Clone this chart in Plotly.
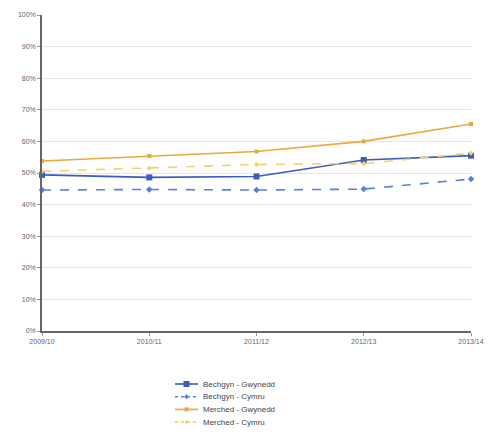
import plotly.graph_objects as go

years = ["2009/10", "2010/11", "2011/12", "2012/13", "2013/14"]
bechgyn_gwynedd = [49.4, 48.6, 48.9, 54.1, 55.5]
bechgyn_cymru = [44.6, 44.8, 44.6, 44.9, 48.1]
merched_gwynedd = [53.8, 55.4, 56.8, 60.0, 65.5]
merched_cymru = [50.5, 51.5, 52.7, 53.0, 56.3]

series = [
    ("Bechgyn - Gwynedd", bechgyn_gwynedd, "#3a5bbf", "solid", "square", 6),
    ("Bechgyn - Cymru", bechgyn_cymru, "#5a7fe0", "dash", "diamond", 5),
    ("Merched - Gwynedd", merched_gwynedd, "#eaa93a", "solid", "square", 4),
    ("Merched - Cymru", merched_cymru, "#f7cf70", "dash", "diamond", 4),
]

W, H = 504, 446
L, R, T, B = 42, 33, 15, 115
PW, PH = W - L - R, H - T - B


def px(x):
    return (x - L) / PW


def py(y):
    return (H - B - y) / PH


fig = go.Figure()
shapes, annotations = [], []
for i, (name, vals, color, dash, sym, size) in enumerate(series):
    fig.add_trace(go.Scatter(
        x=years, y=vals, name=name, mode="lines+markers",
        line=dict(color=color, width=1.6, dash=dash),
        marker=dict(color=color, symbol=sym, size=size),
        cliponaxis=False, showlegend=False,
    ))
    # compact legend entry
    yrow = 384 + i * 12.7
    shapes.append(dict(type="line", xref="paper", yref="paper",
                       x0=px(175), x1=px(198), y0=py(yrow), y1=py(yrow),
                       line=dict(color=color, width=1.6,
                                 dash="dot" if dash == "dash" else "solid")))
    s = size / 2.0
    cx = 186.5
    if sym == "square":
        path = (f"M {px(cx - s)} {py(yrow - s)} L {px(cx + s)} {py(yrow - s)} "
                f"L {px(cx + s)} {py(yrow + s)} L {px(cx - s)} {py(yrow + s)} Z")
    else:
        path = (f"M {px(cx)} {py(yrow - s)} L {px(cx + s)} {py(yrow)} "
                f"L {px(cx)} {py(yrow + s)} L {px(cx - s)} {py(yrow)} Z")
    shapes.append(dict(type="path", xref="paper", yref="paper", path=path,
                       fillcolor=color, line=dict(color=color, width=0)))
    annotations.append(dict(text=name, xref="paper", yref="paper",
                            x=px(201), y=py(yrow), xanchor="left",
                            yanchor="middle", showarrow=False,
                            font=dict(size=8, color="#444")))

fig.update_layout(
    width=W, height=H,
    margin=dict(l=L, r=R, t=T, b=B, autoexpand=False),
    paper_bgcolor="white", plot_bgcolor="white",
    font=dict(family="Liberation Sans, Arial, sans-serif", size=8, color="#555"),
    showlegend=False,
    shapes=shapes, annotations=annotations,
)
fig.update_xaxes(
    type="category", range=[0, 4], showgrid=False, automargin=False,
    showline=True, linecolor="#666", linewidth=1.5,
    ticks="outside", ticklen=3, tickcolor="#999",
    tickfont=dict(size=7, color="#666"),
)
fig.update_yaxes(
    range=[0, 100], dtick=10, ticksuffix="%", automargin=False,
    showgrid=True, gridcolor="#e6e6e6", gridwidth=1,
    showline=True, linecolor="#666", linewidth=1.5,
    ticks="outside", ticklen=3, tickcolor="#999",
    tickfont=dict(size=7, color="#666"), zeroline=False,
)

fig.write_html("out.html", config={"displayModeBar": False},
               post_script="document.body.style.margin='0';")
